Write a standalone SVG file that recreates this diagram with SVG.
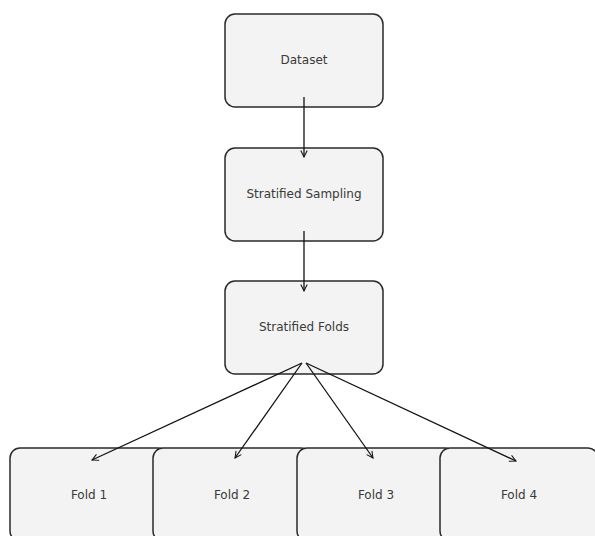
<svg xmlns="http://www.w3.org/2000/svg" width="595" height="536" viewBox="0 0 595 536">
<style>
.box{fill:#f3f3f3;stroke:#2a2a2a;stroke-width:1.5}
.lbl{font-family:"DejaVu Sans",sans-serif;font-size:12px;fill:#3a3a3a;text-anchor:middle;dominant-baseline:central}
.edge{stroke:#111;stroke-width:1.3;fill:none;marker-end:url(#ah)}
</style>
<defs>
<marker id="ah" viewBox="0 0 10 10" refX="9" refY="5" markerWidth="8" markerHeight="8" markerUnits="userSpaceOnUse" orient="auto">
<path d="M1,1 L9,5 L1,9" fill="none" stroke="#111" stroke-width="1.3"/>
</marker>
</defs>
<rect width="595" height="536" fill="#fff"/>
<g id="dataset"><rect class="box" x="225" y="14" width="158" height="93" rx="10"/><text class="lbl" x="304" y="60">Dataset</text></g>
<g id="sampling"><rect class="box" x="225" y="148" width="158" height="93" rx="10"/><text class="lbl" x="304" y="194">Stratified Sampling</text></g>
<g id="folds"><rect class="box" x="225" y="281" width="158" height="93" rx="10"/><text class="lbl" x="304" y="327">Stratified Folds</text></g>
<g id="fold1"><rect class="box" x="10" y="448" width="158" height="93" rx="10"/><text class="lbl" x="89" y="495">Fold 1</text></g>
<g id="fold2"><rect class="box" x="153" y="448" width="158" height="93" rx="10"/><text class="lbl" x="232" y="495">Fold 2</text></g>
<g id="fold3"><rect class="box" x="297" y="448" width="158" height="93" rx="10"/><text class="lbl" x="376" y="495">Fold 3</text></g>
<g id="fold4"><rect class="box" x="440" y="448" width="158" height="93" rx="10"/><text class="lbl" x="519" y="495">Fold 4</text></g>
<g id="connectors">
<line class="edge" x1="304" y1="97" x2="304" y2="157"/>
<line class="edge" x1="304" y1="231" x2="304" y2="291"/>
<line class="edge" x1="302" y1="363" x2="92" y2="460"/>
<line class="edge" x1="302" y1="363" x2="235" y2="458"/>
<line class="edge" x1="306" y1="363" x2="373" y2="458"/>
<line class="edge" x1="306" y1="363" x2="516" y2="461"/>
</g>
</svg>
